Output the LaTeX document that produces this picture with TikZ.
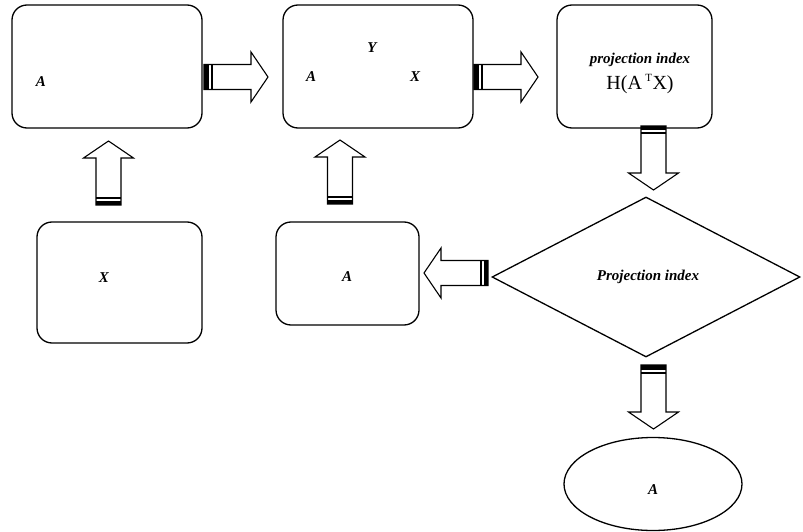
\documentclass[tikz,border=0pt]{standalone}
\usepackage{fontspec}
\setmainfont{Liberation Serif}
\usetikzlibrary{shapes.geometric}

\tikzset{
  stage/.style={draw,line width=1.3pt,rounded corners=15pt,inner sep=0pt},
  lbl/.style={font=\fontsize{15}{17}\selectfont\bfseries\itshape,inner sep=0pt},
  hollow/.style={draw,line width=1.1pt,fill=white,line join=miter},
}
% block arrow: tail at #1, pointing at angle #2
\newcommand{\blockarrow}[2]{%
  \begin{scope}[shift={(#1)},rotate=#2]
    \draw[hollow] (0,-12.5) -- (47,-12.5) -- (47,-25) -- (64,0) -- (47,25) -- (47,12.5) -- (0,12.5) -- cycle;
    \fill (0,-12.5) rectangle (4.5,12.5);
    \fill (6.5,-12.5) rectangle (8.5,12.5);
  \end{scope}}

\begin{document}
\begin{tikzpicture}[x=1pt,y=-1pt]
\useasboundingbox (0,0) rectangle (803,532);
% boxes
\node[stage,minimum width=190pt,minimum height=123pt] (start) at (107,66.5) {};
\node[stage,minimum width=190pt,minimum height=123pt] (model) at (378,66.5) {};
\node[stage,minimum width=155pt,minimum height=123pt] (index) at (634.5,66.5) {};
\node[stage,minimum width=165pt,minimum height=121pt] (data) at (119.5,282.5) {};
\node[stage,minimum width=143pt,minimum height=103pt] (update) at (347.5,273.5) {};
\node[draw,diamond,line width=1.3pt,minimum width=308pt,minimum height=160pt,inner sep=0pt] (test) at (646,277) {};
\node[draw,ellipse,line width=1.3pt,minimum width=178pt,minimum height=93pt,inner sep=0pt] (result) at (653,484) {};
% labels
\node[lbl] (l1) at (41,82) {A};
\node[lbl] (l2) at (311,77) {A};
\node[lbl] (l3) at (372,48) {Y};
\node[lbl] (l4) at (415,77) {X};
\node[lbl] (l5) at (640,60) {projection index};
\node[inner sep=0pt,font=\fontsize{20}{22}\selectfont] (l6) at (640,84) {H(A\,\textsuperscript{\fontsize{11}{12}\selectfont T}X)};
\node[lbl] (l7) at (104,278) {X};
\node[lbl] (l8) at (347,277) {A};
\node[lbl] (l9) at (648,277) {Projection index};
\node[lbl] (l10) at (653,490) {A};
% arrows
\coordinate (t1) at (204,77);
\coordinate (t2) at (474,77);
\coordinate (t3) at (108.5,205);
\coordinate (t4) at (340,204);
\coordinate (t5) at (653.5,126);
\coordinate (t6) at (488,273);
\coordinate (t7) at (653.5,365);
\blockarrow{t1}{0}
\blockarrow{t2}{0}
\blockarrow{t3}{90}
\blockarrow{t4}{90}
\blockarrow{t5}{-90}
\blockarrow{t6}{180}
\blockarrow{t7}{-90}
\end{tikzpicture}
\end{document}
